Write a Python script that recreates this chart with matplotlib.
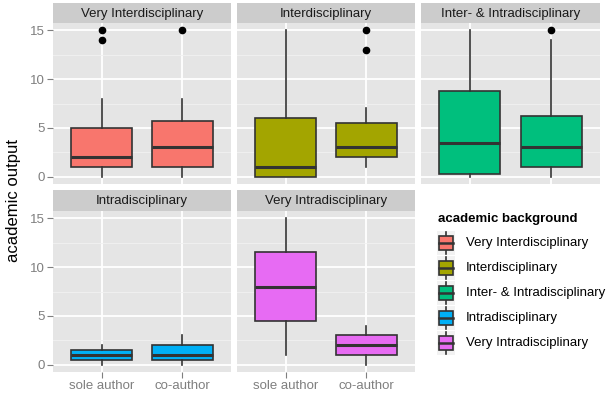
import matplotlib
matplotlib.use("Agg")
import matplotlib.pyplot as plt
from matplotlib.patches import Rectangle
from matplotlib.lines import Line2D

plt.rcParams['font.family'] = ['Liberation Sans', 'DejaVu Sans']

# academic background groups (facets) and their colours
backgrounds = ["Very Interdisciplinary", "Interdisciplinary",
               "Inter- & Intradisciplinary", "Intradisciplinary",
               "Very Intradisciplinary"]
colors = ["#F8766D", "#A3A500", "#00BF7D", "#00B0F6", "#E76BF3"]
authorship = ["sole author", "co-author"]

# five-number summaries per facet: [sole author, co-author]
whisker_low = [[0, 0], [0, 1], [0, 0], [0, 0], [1, 0]]
q1 = [[1, 1], [0, 2], [0.25, 1], [0.5, 0.5], [4.5, 1]]
median = [[2, 3], [1, 3], [3.5, 3], [1, 1], [8, 2]]
q3 = [[5, 5.75], [6, 5.5], [8.75, 6.25], [1.5, 2], [11.5, 3]]
whisker_high = [[8, 8], [15, 7], [15, 14], [2, 3], [15, 4]]
outliers = [[[14, 15], [15]], [[], [13, 15]], [[], [15]], [[], []], [[], []]]

yticks = [0, 5, 10, 15]
yminor = [2.5, 7.5, 12.5]

W, H = 606, 398
fig = plt.figure(figsize=(W / 100, H / 100), dpi=100)

PANEL_BG = "#E5E5E5"
STRIP_BG = "#CCCCCC"
TICK_GREY = "#7F7F7F"
EDGE = "#333333"


def px_axes(x0, y0, x1, y1):
    """Axes from pixel box (top-left origin)."""
    return fig.add_axes([x0 / W, 1 - y1 / H, (x1 - x0) / W, (y1 - y0) / H])


# panel pixel boxes: (left, strip top, panel top, right, panel bottom)
cols = [(53, 231), (237, 415), (421, 600)]
rows = [(3, 23, 184), (190, 211, 372)]
layout = [(0, 0), (0, 1), (0, 2), (1, 0), (1, 1)]

for i, (r, c) in enumerate(layout):
    x0, x1 = cols[c]
    st, pt, pb = rows[r]
    ax = px_axes(x0, pt, x1, pb)
    ax.set_facecolor(PANEL_BG)
    for s in ax.spines.values():
        s.set_visible(False)

    stats = []
    for j in range(2):
        stats.append(dict(med=median[i][j], q1=q1[i][j], q3=q3[i][j],
                          whislo=whisker_low[i][j], whishi=whisker_high[i][j],
                          fliers=outliers[i][j]))
    ax.bxp(stats, positions=[1, 2], widths=0.75, showcaps=False,
           patch_artist=True,
           boxprops=dict(facecolor=colors[i], edgecolor=EDGE, linewidth=1.2),
           medianprops=dict(color=EDGE, linewidth=2.2),
           whiskerprops=dict(color=EDGE, linewidth=1.2),
           flierprops=dict(marker='o', markerfacecolor='black',
                           markeredgecolor='black', markersize=4.5),
           zorder=3)

    ax.set_xlim(0.4, 2.6)
    ax.set_ylim(-0.75, 15.75)
    ax.set_yticks(yticks)
    ax.set_yticks(yminor, minor=True)
    ax.grid(True, which='major', color='white', linewidth=1.3, zorder=0)
    ax.grid(True, which='minor', axis='y', color='#F2F2F2', linewidth=0.6, zorder=0)
    ax.set_axisbelow(True)

    ax.tick_params(which='minor', length=0)
    ax.tick_params(which='major', color=TICK_GREY, length=4, width=0.8,
                   labelcolor=TICK_GREY, labelsize=9.5, pad=2)
    if c == 0:
        ax.set_yticklabels([str(t) for t in yticks])
    else:
        ax.tick_params(axis='y', left=False, labelleft=False)
    if r == 1:
        ax.set_xticks([1, 2])
        ax.set_xticklabels(authorship)
    else:
        ax.set_xticks([1, 2])
        ax.tick_params(axis='x', bottom=False, labelbottom=False)

    # facet strip
    sax = px_axes(x0, st, x1, pt)
    sax.set_facecolor(STRIP_BG)
    sax.set_xticks([])
    sax.set_yticks([])
    for s in sax.spines.values():
        s.set_visible(False)
    sax.text(0.5, 0.47, backgrounds[i], ha='center', va='center',
             fontsize=9.5, color='#1A1A1A', transform=sax.transAxes)

fig.text(14 / W, 1 - 200 / H, "academic output", rotation=90,
         ha='center', va='center', fontsize=12)

# legend drawn with box glyphs
fig.text(438 / W, 1 - 219 / H, "academic background", fontsize=9.5,
         fontweight='bold', ha='left', va='center')
row_y = [243, 268, 293, 318, 343]
for i, name in enumerate(backgrounds):
    yc = row_y[i]
    kax = px_axes(437, yc - 12, 455, yc + 12)
    kax.set_xlim(0, 1)
    kax.set_ylim(0, 1)
    kax.set_facecolor("#F2F2F2")
    kax.set_xticks([])
    kax.set_yticks([])
    for s in kax.spines.values():
        s.set_visible(False)
    kax.add_line(Line2D([0.5, 0.5], [0.05, 0.95], color=EDGE, linewidth=1.2))
    kax.add_patch(Rectangle((0.1, 0.22), 0.8, 0.56, facecolor=colors[i],
                            edgecolor=EDGE, linewidth=1.2, zorder=2))
    kax.add_line(Line2D([0.1, 0.9], [0.5, 0.5], color=EDGE, linewidth=1.8, zorder=3))
    fig.text(466 / W, 1 - yc / H, name, fontsize=9.5, ha='left', va='center')

fig.savefig("out.png", dpi=100)
